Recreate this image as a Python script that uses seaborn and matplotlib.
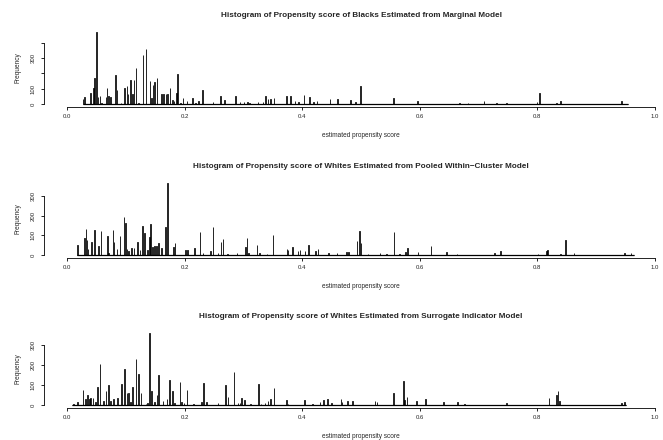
import numpy as np
import pandas as pd
import seaborn as sns
import matplotlib
matplotlib.use("Agg")
import matplotlib.pyplot as plt


# Bin centres (width 0.001) and their counts
blacks_score = [0.027, 0.030, 0.040, 0.045, 0.047, 0.050, 0.053, 0.056, 0.059, 0.066,
                0.068, 0.071, 0.074, 0.082, 0.085, 0.092, 0.098, 0.102, 0.104, 0.108,
                0.111, 0.114, 0.117, 0.122, 0.129, 0.134, 0.141, 0.144, 0.146, 0.149,
                0.153, 0.161, 0.164, 0.168, 0.171, 0.175, 0.179, 0.182, 0.186, 0.188,
                0.193, 0.197, 0.204, 0.213, 0.219, 0.224, 0.230, 0.248, 0.261, 0.268,
                0.287, 0.294, 0.301, 0.307, 0.310, 0.325, 0.333, 0.338, 0.342, 0.346,
                0.352, 0.373, 0.380, 0.388, 0.394, 0.403, 0.412, 0.419, 0.425, 0.447,
                0.460, 0.482, 0.491, 0.499, 0.555, 0.596, 0.668, 0.682, 0.709, 0.730,
                0.747, 0.799, 0.804, 0.833, 0.839, 0.943, 0.954]
blacks_count = [32, 48, 70, 102, 173, 470, 48, 52, 10, 48,
                102, 52, 48, 188, 95, 8, 108, 117, 65, 160,
                65, 156, 236, 10, 322, 360, 149, 37, 123, 145,
                167, 63, 69, 69, 65, 108, 26, 20, 74, 193,
                9, 43, 20, 37, 9, 20, 91, 15, 52, 24,
                52, 11, 11, 15, 9, 15, 11, 54, 32, 33,
                42, 55, 52, 22, 15, 59, 48, 15, 22, 31,
                31, 26, 15, 118, 42, 22, 9, 9, 20, 9,
                9, 13, 72, 9, 20, 18, 3]

pooled_score = [0.018, 0.030, 0.032, 0.034, 0.036, 0.042, 0.047, 0.054, 0.058, 0.069,
                0.071, 0.078, 0.080, 0.085, 0.090, 0.097, 0.099, 0.102, 0.105, 0.110,
                0.114, 0.120, 0.124, 0.128, 0.132, 0.137, 0.140, 0.142, 0.145, 0.149,
                0.152, 0.156, 0.161, 0.167, 0.171, 0.181, 0.184, 0.202, 0.205, 0.217,
                0.226, 0.231, 0.244, 0.248, 0.257, 0.262, 0.265, 0.273, 0.289, 0.304,
                0.306, 0.309, 0.323, 0.327, 0.340, 0.350, 0.374, 0.376, 0.383, 0.393,
                0.396, 0.405, 0.411, 0.423, 0.427, 0.445, 0.459, 0.475, 0.479, 0.493,
                0.497, 0.500, 0.512, 0.532, 0.543, 0.556, 0.565, 0.576, 0.579, 0.597,
                0.619, 0.645, 0.663, 0.727, 0.737, 0.754, 0.781, 0.801, 0.815, 0.817,
                0.839, 0.848, 0.862, 0.948, 0.959, 0.963]
pooled_count = [51, 89, 132, 76, 31, 68, 130, 46, 122, 98,
                12, 127, 68, 31, 96, 195, 161, 31, 20, 37,
                34, 65, 26, 147, 110, 26, 93, 157, 42, 46,
                46, 62, 37, 143, 367, 39, 62, 26, 26, 34,
                115, 12, 22, 143, 12, 68, 81, 8, 13, 39,
                89, 12, 51, 12, 8, 100, 30, 27, 42, 20,
                25, 23, 50, 20, 30, 12, 12, 17, 17, 70,
                120, 63, 8, 13, 7, 117, 8, 17, 38, 17,
                47, 17, 8, 12, 20, 3, 3, 8, 23, 27,
                8, 75, 13, 12, 13, 3]

surrogate_score = [0.009, 0.011, 0.018, 0.027, 0.031, 0.035, 0.038, 0.040, 0.044, 0.048,
                   0.052, 0.056, 0.062, 0.066, 0.071, 0.074, 0.079, 0.086, 0.093, 0.098,
                   0.102, 0.105, 0.108, 0.111, 0.117, 0.122, 0.126, 0.134, 0.137, 0.140,
                   0.144, 0.149, 0.153, 0.156, 0.163, 0.170, 0.174, 0.179, 0.183, 0.192,
                   0.195, 0.199, 0.204, 0.215, 0.229, 0.232, 0.237, 0.257, 0.270, 0.274,
                   0.284, 0.291, 0.294, 0.297, 0.302, 0.312, 0.326, 0.330, 0.337, 0.342,
                   0.346, 0.352, 0.373, 0.376, 0.404, 0.418, 0.430, 0.436, 0.443, 0.450,
                   0.466, 0.468, 0.477, 0.486, 0.524, 0.527, 0.555, 0.572, 0.574, 0.578,
                   0.594, 0.610, 0.640, 0.664, 0.676, 0.724, 0.747, 0.763, 0.820, 0.833,
                   0.835, 0.838, 0.943, 0.948, 0.950]
surrogate_count = [3, 8, 18, 75, 32, 53, 32, 35, 38, 18,
                   91, 205, 23, 70, 102, 23, 32, 38, 108, 180,
                   61, 61, 18, 93, 233, 154, 61, 5, 9, 362,
                   70, 14, 49, 150, 23, 32, 125, 70, 12, 118,
                   18, 9, 78, 4, 14, 112, 18, 9, 103, 40,
                   166, 12, 9, 36, 24, 4, 108, 4, 10, 19,
                   32, 88, 27, 7, 25, 7, 15, 27, 32, 10,
                   32, 15, 20, 20, 20, 15, 63, 120, 24, 41,
                   20, 29, 15, 15, 7, 3, 12, 3, 37, 49,
                   69, 20, 10, 15, 3]

titles = ["Histogram of Propensity score of Blacks Estimated from Marginal Model",
          "Histogram of Propensity score of Whites Estimated from Pooled Within\u2212Cluster Model",
          "Histogram of Propensity score of Whites Estimated from Surrogate Indicator Model"]
x_ticks = [0.0, 0.2, 0.4, 0.6, 0.8, 1.0]
x_ticklabels = ["0.0", "0.2", "0.4", "0.6", "0.8", "1.0"]
y_ticks = [[0, 100, 200, 300, 400], [0, 100, 200, 300], [0, 100, 200, 300]]
y_ticklabels = [["0", "100", "", "300", ""],
                ["0", "100", "200", "300"],
                ["0", "100", "200", "300"]]

panels = [(blacks_score, blacks_count),
          (pooled_score, pooled_count),
          (surrogate_score, surrogate_count)]

sns.set_style("ticks")
plt.rcParams["font.family"] = ["Liberation Sans", "DejaVu Sans"]

fig = plt.figure(figsize=(6.63, 4.4), dpi=100)
W, H = 663, 440
# plot region (pixels): R layout, right edge cropped off the picture
left_px, right_px = 43.5, 678.5
bottoms_px = [107, 258, 408]
region_h = 78

for i, (score, count) in enumerate(panels):
    b = bottoms_px[i]
    ax = fig.add_axes([left_px / W, 1 - b / H, (right_px - left_px) / W, region_h / H])

    df = pd.DataFrame({"score": score, "count": count})
    lo = round(min(score) - 0.0005, 4)
    hi = round(max(score) + 0.0005, 4)
    sns.histplot(data=df, x="score", weights="count", binwidth=0.001, binrange=(lo, hi),
                 fill=False, color="black", linewidth=0.6, ax=ax)
    # empty bins show as a flat line along zero
    ax.hlines(0, lo, hi, color="black", linewidth=0.9)

    top = max(count)
    ax.set_xlim(-0.04, 1.04)
    ax.set_ylim(-0.04 * top, 1.04 * top)

    ax.set_xticks(x_ticks)
    ax.set_xticklabels(x_ticklabels)
    ax.set_yticks(y_ticks[i])
    ax.set_yticklabels(y_ticklabels[i], rotation=90, va="center")
    ax.tick_params(axis="both", length=2.3, width=0.6, labelsize=4.3, color="black")
    ax.tick_params(axis="x", pad=2.6)
    ax.tick_params(axis="y", pad=3.3)

    for side in ["top", "right"]:
        ax.spines[side].set_visible(False)
    ax.spines["left"].set_bounds(0, y_ticks[i][-1])
    ax.spines["bottom"].set_bounds(0, 1)
    for side in ["left", "bottom"]:
        ax.spines[side].set_linewidth(0.6)
        ax.spines[side].set_color("black")

    ax.set_title(titles[i], fontsize=5.9, fontweight="bold", pad=8.9)
    ax.set_xlabel("estimated propensity score", fontsize=4.7)
    ax.set_ylabel("Frequency", fontsize=4.7)
    ax.xaxis.set_label_coords(0.5, -0.32)
    ax.yaxis.set_label_coords(-0.0354, 0.5)

fig.savefig("out.png", dpi=100)
